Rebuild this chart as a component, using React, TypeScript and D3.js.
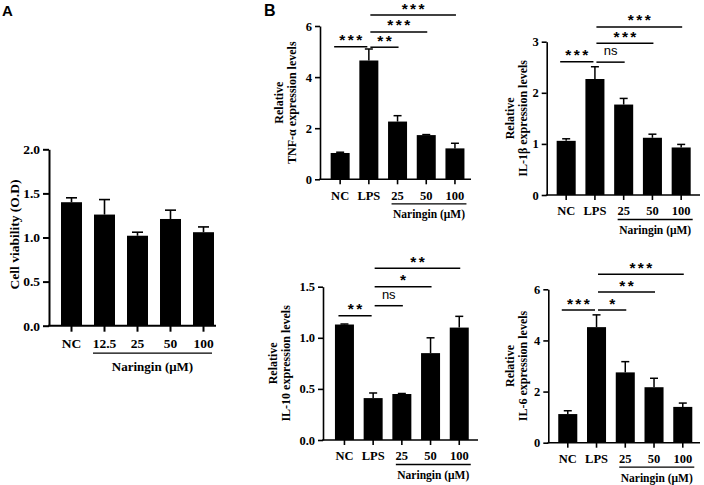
import React, { useRef, useEffect } from 'react';
import * as d3 from 'd3';

// panel A: cell viability
const viabilityGroups = ['NC', '12.5', '25', '50', '100'];
const viabilityNaringin = ['12.5', '25', '50', '100'];
const viabilityMean = [1.40, 1.26, 1.02, 1.21, 1.06];
const viabilityErr = [0.05, 0.17, 0.04, 0.10, 0.06];
const viabilityTicks = [0, 0.5, 1.0, 1.5, 2.0];

// panel B: cytokines
const cytokineGroups = ['NC', 'LPS', '25', '50', '100'];
const cytokineNaringin = ['25', '50', '100'];

const tnfMean = [1.03, 4.65, 2.26, 1.73, 1.21];
const tnfErr = [0.03, 0.45, 0.23, 0.02, 0.20];
const tnfTicks = [0, 2, 4, 6];
const tnfSig = [['NC', 'LPS', '***', 5.19], ['LPS', '25', '**', 5.17], ['LPS', '50', '***', 5.77], ['LPS', '100', '***', 6.43]];

const il1bMean = [1.06, 2.27, 1.77, 1.12, 0.93];
const il1bErr = [0.04, 0.24, 0.12, 0.07, 0.06];
const il1bTicks = [0, 1, 2, 3];
const il1bSig = [['NC', 'LPS', '***', 2.61], ['LPS', '25', 'ns', 2.60], ['LPS', '50', '***', 2.97], ['LPS', '100', '***', 3.29]];

const il10Mean = [1.13, 0.41, 0.45, 0.85, 1.10];
const il10Err = [0.005, 0.05, 0.005, 0.15, 0.11];
const il10Ticks = [0, 0.5, 1.0, 1.5];
const il10Sig = [['NC', 'LPS', '**', 1.216], ['LPS', '25', 'ns', 1.314], ['LPS', '50', '*', 1.50], ['LPS', '100', '**', 1.68]];

const il6Mean = [1.12, 4.52, 2.75, 2.17, 1.40];
const il6Err = [0.13, 0.48, 0.42, 0.35, 0.15];
const il6Ticks = [0, 2, 4, 6];
const il6Sig = [['NC', 'LPS', '***', 5.19], ['LPS', '25', '*', 5.19], ['LPS', '50', '**', 5.89], ['LPS', '100', '***', 6.59]];

const serif = 'Liberation Serif, Times New Roman, serif';
const sans = 'Liberation Sans, Arial, sans-serif';

function drawPanel(svg, p) {
  const L = p.layout;
  const g = svg.append('g');
  const n = p.groups.length;

  const y = d3.scaleLinear()
    .domain([0, d3.max(p.ticks)])
    .range([L.y0, L.yTop]);

  const x = d3.scaleBand()
    .domain(p.groups)
    .range([L.bandStart, L.bandStart + L.step * n])
    .paddingInner(L.pad)
    .paddingOuter(L.pad / 2);
  const bw = x.bandwidth();
  const cx = d => x(d) + bw / 2;

  // bars
  g.selectAll('rect.bar')
    .data(p.groups)
    .join('rect')
    .attr('class', 'bar')
    .attr('x', d => x(d))
    .attr('y', (d, i) => y(p.mean[i]))
    .attr('width', bw)
    .attr('height', (d, i) => y(0) - y(p.mean[i]))
    .attr('fill', '#000');

  // error bars (upper only)
  const eb = g.append('g').attr('stroke', '#000').attr('stroke-width', L.sw);
  p.groups.forEach((d, i) => {
    const top = y(p.mean[i] + p.err[i]);
    eb.append('line').attr('x1', cx(d)).attr('x2', cx(d)).attr('y1', y(p.mean[i])).attr('y2', top);
    eb.append('line').attr('x1', cx(d) - L.cap / 2).attr('x2', cx(d) + L.cap / 2).attr('y1', top).attr('y2', top);
  });

  // y axis
  const yAxis = g.append('g')
    .attr('transform', `translate(${L.axisX},0)`)
    .call(d3.axisLeft(y).tickValues(p.ticks).tickFormat(p.fmt).tickSize(L.tick).tickSizeOuter(0).tickPadding(3));
  yAxis.attr('font-family', serif).attr('font-weight', 'bold').attr('font-size', L.fs);
  yAxis.selectAll('path, line').attr('stroke-width', L.aw);
  yAxis.selectAll('text').attr('fill', '#000');

  // x axis
  const xAxis = g.append('g')
    .attr('transform', `translate(0,${L.y0})`)
    .call(d3.axisBottom(x).tickSize(L.tick).tickSizeOuter(0).tickPadding(L.xPad));
  xAxis.select('.domain').remove();
  xAxis.attr('font-family', serif).attr('font-weight', 'bold').attr('font-size', L.xfs);
  xAxis.selectAll('line').attr('stroke-width', L.aw);
  xAxis.selectAll('text').attr('fill', '#000');
  g.append('line')
    .attr('x1', L.axisX - L.aw / 2).attr('x2', L.xEnd)
    .attr('y1', L.y0).attr('y2', L.y0)
    .attr('stroke', '#000').attr('stroke-width', L.aw);

  // Naringin group line
  const first = p.naringin[0];
  const last = p.naringin[p.naringin.length - 1];
  const ux1 = x(first) + L.uIn;
  const ux2 = x(last) + bw + L.uOut;
  g.append('line')
    .attr('x1', ux1).attr('x2', ux2)
    .attr('y1', L.y0 + L.uOff).attr('y2', L.y0 + L.uOff)
    .attr('stroke', '#000').attr('stroke-width', 1.3);
  g.append('text')
    .attr('x', (ux1 + ux2) / 2)
    .attr('y', L.y0 + L.nOff)
    .attr('text-anchor', 'middle')
    .attr('font-family', serif).attr('font-weight', 'bold').attr('font-size', L.nfs)
    .text('Naringin (\u03bcM)');

  // y title
  const cy = (L.y0 + L.yTop) / 2 + L.tShift;
  p.title.forEach((t, k) => {
    g.append('text')
      .attr('transform', `translate(${L.axisX - L.tOff[k]},${cy}) rotate(-90)`)
      .attr('text-anchor', 'middle')
      .attr('font-family', serif).attr('font-weight', 'bold').attr('font-size', L.tfs)
      .text(t);
  });

  // significance brackets
  (p.sig || []).forEach(([a, b, lab, lv]) => {
    let x1, x2;
    if (a === 'NC') { x1 = cx(a) - 6; x2 = cx(b) - 1.5; } else { x1 = cx(a) + 1.5; x2 = cx(b) + 1; }
    const yy = y(lv);
    g.append('line').attr('x1', x1).attr('x2', x2).attr('y1', yy).attr('y2', yy)
      .attr('stroke', '#000').attr('stroke-width', 1.5);
    const isNs = lab === 'ns';
    g.append('text')
      .attr('x', (x1 + x2) / 2 + (isNs ? 0 : 1.2))
      .attr('y', yy - (isNs ? 7 : 1.5))
      .attr('text-anchor', 'middle')
      .attr('font-family', sans)
      .attr('font-weight', isNs ? 'normal' : 'bold')
      .attr('font-size', isNs ? 13 : 15.5)
      .attr('letter-spacing', isNs ? 0 : 2.4)
      .text(lab);
  });
}

const layoutB = { pad: 0.338, tick: 5, fs: 12.5, xfs: 12.5, nfs: 11.5, tfs: 12, sw: 1.5, aw: 1.6, cap: 8, xPad: 6.5, uIn: 3.5, uOut: 2, uOff: 24.5, nOff: 39, tShift: 0 };

function App() {
  const svgRef = useRef();

  useEffect(() => {
    const svg = d3.select(svgRef.current);
    svg.selectAll('*').remove();

    svg.append('text').attr('x', 2).attr('y', 16)
      .attr('font-family', sans).attr('font-weight', 'bold').attr('font-size', 15).text('A');
    svg.append('text').attr('x', 264).attr('y', 16)
      .attr('font-family', sans).attr('font-weight', 'bold').attr('font-size', 16).text('B');

    drawPanel(svg, {
      groups: viabilityGroups, naringin: viabilityNaringin, mean: viabilityMean, err: viabilityErr, ticks: viabilityTicks,
      fmt: d3.format('.1f'), title: ['Cell viability (O.D)'],
      layout: { pad: 0.364, tick: 6, fs: 13.5, xfs: 13.5, nfs: 13, tfs: 13.5, sw: 1.6, aw: 2, cap: 11, xPad: 7, uIn: -1, uOut: -2, uOff: 27.5, nOff: 45, tShift: -3,
        axisX: 49, y0: 325.7, yTop: 149.3, bandStart: 55, step: 33, xEnd: 216, tOff: [30] }
    });
    drawPanel(svg, {
      groups: cytokineGroups, naringin: cytokineNaringin, mean: tnfMean, err: tnfErr, ticks: tnfTicks, sig: tnfSig,
      fmt: d3.format('d'), title: ['Relative', 'TNF-\u03b1 expression levels'],
      layout: { ...layoutB, axisX: 320, y0: 179.3, yTop: 26, bandStart: 325.8, step: 28.7, xEnd: 471, tOff: [37, 24] }
    });
    drawPanel(svg, {
      groups: cytokineGroups, naringin: cytokineNaringin, mean: il1bMean, err: il1bErr, ticks: il1bTicks, sig: il1bSig,
      fmt: d3.format('d'), title: ['Relative', 'IL-1\u03b2 expression levels'],
      layout: { ...layoutB, axisX: 546.7, y0: 195, yTop: 41.7, bandStart: 551.8, step: 28.75, xEnd: 700, tOff: [33, 20] }
    });
    drawPanel(svg, {
      groups: cytokineGroups, naringin: cytokineNaringin, mean: il10Mean, err: il10Err, ticks: il10Ticks, sig: il10Sig,
      fmt: d3.format('.1f'), title: ['Relative', 'IL-10 expression levels'],
      layout: { ...layoutB, axisX: 323, y0: 440, yTop: 286.7, bandStart: 330.1, step: 28.7, xEnd: 478, tOff: [46, 33] }
    });
    drawPanel(svg, {
      groups: cytokineGroups, naringin: cytokineNaringin, mean: il6Mean, err: il6Err, ticks: il6Ticks, sig: il6Sig,
      fmt: d3.format('d'), title: ['Relative', 'IL-6 expression levels'],
      layout: { ...layoutB, axisX: 548.3, y0: 442.7, yTop: 289.3, bandStart: 553.4, step: 28.75, xEnd: 700, tOff: [34, 21] }
    });
  }, []);

  return (
    <svg ref={svgRef} width={704} height={485}
      style={{ position: 'absolute', left: 0, top: 0, background: '#fff' }} />
  );
}

export default App;
